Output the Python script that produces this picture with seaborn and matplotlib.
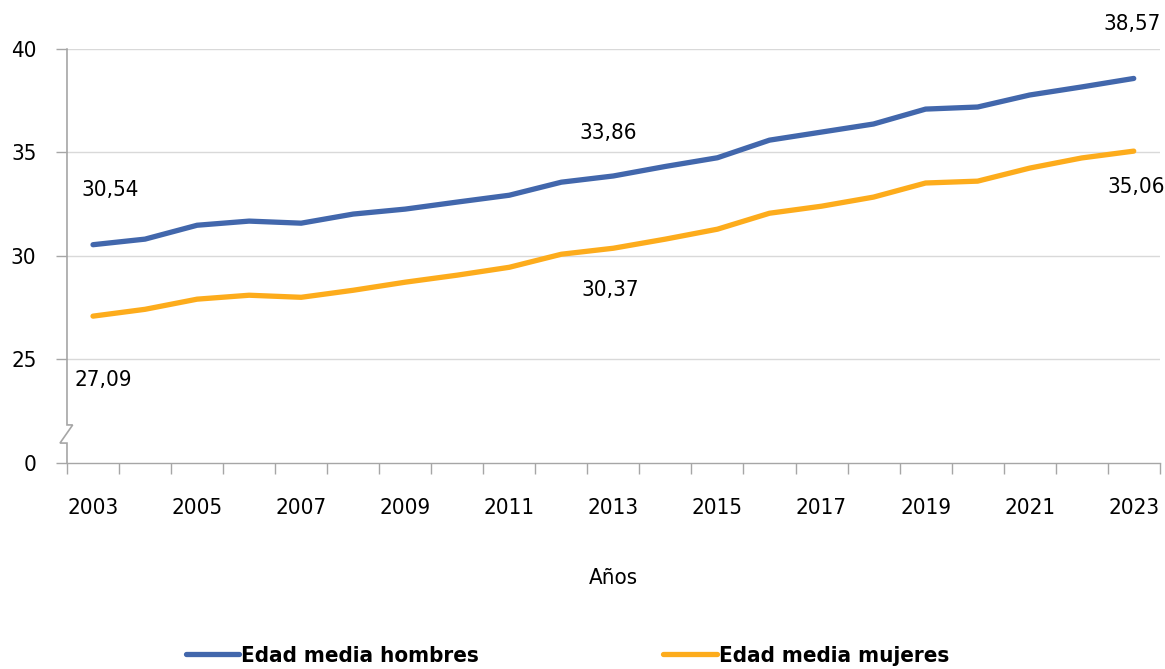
"""
Edad media hombres / mujeres, 2003-2023
"""
import matplotlib
matplotlib.use("Agg")
import matplotlib.pyplot as plt
import seaborn as sns
import pandas as pd

# datos
anios = list(range(2003, 2024))
hombres = [30.54, 30.81, 31.48, 31.68, 31.58, 32.02, 32.26, 32.60, 32.93, 33.56,
           33.86, 34.32, 34.74, 35.59, 35.98, 36.37, 37.09, 37.19, 37.77, 38.16, 38.57]
mujeres = [27.09, 27.42, 27.91, 28.10, 28.00, 28.34, 28.73, 29.07, 29.45, 30.08,
           30.37, 30.81, 31.29, 32.06, 32.40, 32.84, 33.52, 33.61, 34.24, 34.73, 35.06]
series = ["Edad media hombres", "Edad media mujeres"]
colores = ["#4267AC", "#FDAC1C"]
ytick_vals = [20, 25, 30, 35, 40]
ytick_labels = ["0", "25", "30", "35", "40"]

# etiquetas de datos: (serie, año, desplazamiento en px)
etiquetas = [
    (0, 2003, (17, 55)),
    (1, 2003, (10, -64)),
    (0, 2013, (-5, 43)),
    (1, 2013, (-3, -42)),
    (0, 2023, (-2, 54)),
    (1, 2023, (2, -36)),
]

df = pd.DataFrame({
    "anio": anios * 2,
    "edad": hombres + mujeres,
    "serie": [series[0]] * len(anios) + [series[1]] * len(anios),
})

sns.set_theme(style="white")
plt.rcParams["font.family"] = ["DejaVu Sans"]
plt.rcParams["font.stretch"] = "condensed"
plt.rcParams["text.color"] = "#000000"
plt.rcParams["xtick.color"] = "#000000"
plt.rcParams["ytick.color"] = "#000000"
plt.rcParams["axes.labelcolor"] = "#000000"

fs = 16

fig = plt.figure(figsize=(11.65, 6.69), dpi=100)
ax = fig.add_axes([0.0575, 0.308, 0.938, 0.619])

sns.lineplot(data=df, x="anio", y="edad", hue="serie", palette=colores,
             linewidth=3.8, ax=ax, legend=True)
for ln in ax.lines:
    ln.set_solid_capstyle("round")

gris = "#A6A6A6"
ax.set_xlim(2002.5, 2023.5)
ax.set_ylim(20, 40)
ax.set_yticks(ytick_vals)
ax.set_yticklabels(ytick_labels, fontsize=fs)
ax.set_xticks(anios[::2])
ax.set_xticklabels([str(a) for a in anios[::2]], fontsize=fs)
ax.set_xticks([a - 0.5 for a in anios] + [2023.5], minor=True)
ax.tick_params(axis="x", which="major", bottom=True, length=0, pad=25)
ax.tick_params(axis="x", which="minor", bottom=True, length=8, color=gris,
               width=1, direction="out")
ax.tick_params(axis="y", left=True, length=8, color=gris, width=1,
               direction="out", pad=14)

for y in ytick_vals[1:]:
    ax.axhline(y, color="#D9D9D9", linewidth=1, zorder=0)

for s in ["top", "right", "left"]:
    ax.spines[s].set_visible(False)
ax.spines["bottom"].set_color(gris)
ax.spines["bottom"].set_linewidth(1)

# eje vertical con marca de corte
ax.plot([0, 0, 0.0052, -0.0064, 0, 0], [1, 0.0918, 0.0918, 0.048, 0.048, 0],
        transform=ax.transAxes, color=gris, linewidth=1.2, clip_on=False,
        solid_joinstyle="miter", zorder=6)

valores = [hombres, mujeres]
for idx, anio, off in etiquetas:
    v = valores[idx][anios.index(anio)]
    ax.annotate(f"{v:.2f}".replace(".", ","), xy=(anio, v), xytext=off,
                textcoords="offset pixels", ha="center", va="center",
                fontsize=fs, annotation_clip=False)

ax.set_xlabel("Años", fontsize=fs, labelpad=36)
ax.set_ylabel("")

handles, labels = ax.get_legend_handles_labels()
ax.legend(handles, labels, loc="center", bbox_to_anchor=(0.458, -0.465), ncol=2,
          frameon=False, handlelength=2.4, handletextpad=0.1, columnspacing=8.3,
          prop={"size": fs, "weight": "bold", "stretch": "condensed"})

fig.savefig("out.png", dpi=100)
